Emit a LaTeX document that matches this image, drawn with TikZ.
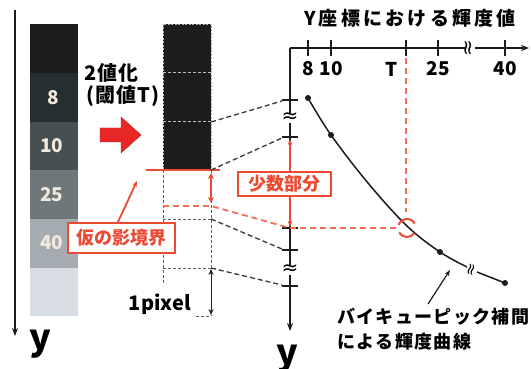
\documentclass[tikz,border=0pt]{standalone}
\usepackage{fontspec}
\setmainfont{Noto Sans CJK JP}[Kerning=Off]
\newfontfamily\dv{DejaVu Sans}
\usetikzlibrary{arrows.meta}
\definecolor{rd}{RGB}{236,74,50}
\definecolor{rdl}{RGB}{242,110,85}
\definecolor{arr}{RGB}{232,40,38}
\definecolor{blk}{RGB}{28,27,30}
\definecolor{ca}{RGB}{28,27,30}
\definecolor{cb}{RGB}{36,48,48}
\definecolor{cc}{RGB}{70,80,82}
\definecolor{cd}{RGB}{110,119,122}
\definecolor{ce}{RGB}{164,172,178}
\definecolor{cf}{RGB}{215,221,227}
\definecolor{ctx}{RGB}{242,232,222}
\definecolor{dsh}{RGB}{50,58,68}
\tikzset{
  celltxt/.style={text=ctx, font=\fontsize{19}{19}\selectfont\bfseries},
  lbl/.style={font=\fontsize{19}{19}\selectfont\bfseries, inner sep=0},
  rbox/.style={draw=rd, line width=2pt, fill=white, text=rd, inner sep=0,
     font=\fontsize{18}{18}\selectfont\bfseries},
  conn/.style={dsh, line width=1.3pt, dash pattern=on 5pt off 3pt},
  rconn/.style={rdl, line width=1.8pt, dash pattern=on 6pt off 4pt},
  grid/.style={dsh!80, line width=0.9pt, dash pattern=on 3pt off 2pt},
  axis/.style={blk, line width=1.8pt},
  tick/.style={blk, line width=1.6pt},
  brk/.style={fill=white, inner sep=0.5pt, font=\dv\fontsize{20}{20}\selectfont},
  dot/.style={circle, fill=blk, inner sep=0, minimum size=6pt},
  ylbl/.style={font=\fontsize{36}{36}\selectfont\bfseries, inner sep=0, anchor=base},
  clbl/.style={inner sep=0, anchor=west, font=\addfontfeature{LetterSpace=7.5}\fontsize{18}{18}\selectfont\bfseries},
}
\begin{document}
\begin{tikzpicture}[x=1pt,y=-1pt]
\useasboundingbox[fill=white] (0,0) rectangle (531,369);

% ---------- left gray column ----------
\fill[ca] (30,24) rectangle (78,73);
\fill[cb] (30,73) rectangle (78,122);
\fill[cc] (30,122) rectangle (78,170);
\fill[cd] (30,170) rectangle (78,219);
\fill[ce] (30,219) rectangle (78,268);
\fill[cf] (30,268) rectangle (78,316);
\node[celltxt] (g8) at (53,98) {8};
\node[celltxt] (g10) at (52,146) {10};
\node[celltxt] (g25) at (52,195) {25};
\node[celltxt] (g40) at (52,243) {40};

% left y axis
\coordinate (ly0) at (15,10);
\coordinate (ly1) at (15,336);
\draw[axis, -{Stealth[length=8pt,width=6pt]}] (ly0) -- (ly1);
\node[ylbl] (ylab) at (40,350) {y};

% binarization label and arrow
\node[lbl, anchor=west, font=\addfontfeature{LetterSpace=6}\fontsize{20}{20}\selectfont\bfseries] (bin1) at (84,73) {2値化};
\node[lbl, anchor=west, font=\addfontfeature{LetterSpace=6}\fontsize{20}{20}\selectfont\bfseries] (bin2) at (86,96) {(閾値T)};
\fill[arr, draw=arr!70!black, line width=0.4pt] (100,128) -- (121,128) -- (121,117) -- (141,135) -- (121,153) -- (121,142) -- (100,142) -- cycle;

% ---------- middle column ----------
\fill[blk] (163,24) rectangle (211,170);
\draw[gray!60, line width=0.9pt, dash pattern=on 2pt off 1.5pt] (163,24) rectangle (211,170);
\draw[gray!50, line width=1pt, dash pattern=on 3pt off 2pt] (163,73) -- (211,73);
\draw[gray!50, line width=1pt, dash pattern=on 3pt off 2pt] (163,122) -- (211,122);
\draw[grid] (163,170) -- (163,285);
\draw[grid] (211,170) -- (211,316);
\draw[grid] (163,219) -- (211,219);
\draw[grid] (163,268) -- (211,268);
\draw[grid] (196,316) -- (211,316);

% 1pixel
\draw[blk, line width=1pt, {Stealth[length=6pt,width=5pt]}-{Stealth[length=6pt,width=5pt]}] (211,269) -- (211,315);
\node[lbl, font=\fontsize{20}{20}\selectfont\bfseries] (pix) at (160,304) {1pixel};

% red boundary
\draw[rd, line width=2.5pt] (146,170) -- (220,170);
\draw[rd, line width=1.8pt, {Stealth[length=6pt,width=6pt]}-{Stealth[length=6pt,width=6pt]}] (211,173) -- (211,203);

% ---------- right graph ----------
\coordinate (O) at (290,48);
\coordinate (xe) at (529,48);
\coordinate (ye) at (290,331);
\draw[axis, -{Stealth[length=8pt,width=6pt]}] (O) -- (xe);
\draw[axis, -{Stealth[length=8pt,width=6pt]}] (O) -- (ye);
\node[ylbl] (ylab2) at (287,365) {y};
\node[lbl, font=\addfontfeature{LetterSpace=17}\fontsize{19}{19}\selectfont\bfseries] (title) at (410,18) {Y座標における輝度値};
\foreach \x/\t/\lx in {308/8/308, 331/10/331, 406/T/392, 438/25/438, 505/40/505}{
  \draw[tick] (\x,40) -- (\x,56);
  \node[lbl] at (\lx,69) {\t};
}
\foreach \y in {100,137,228,250,286}{
  \draw[tick] (282,\y) -- (298,\y);
}
\node[brk] (b1) at (290,118) {≈};
\node[brk] (b2) at (290,270) {≈};
\node[brk, rotate=90] (b3) at (470,48) {≈};

% connectors from pixels to axis
\draw[conn] (211,122) -- (282,101);
\draw[conn] (211,170) -- (282,138);
\draw[conn] (211,219) -- (282,249);
\draw[conn] (211,268) -- (282,285);

% red dashed fractional level
\draw[rconn] (163,206) -- (211,206) -- (290,228) -- (398,228);
\draw[rconn] (406,58) -- (406,212);

% fractional box and arrows
\node[rbox, minimum width=93pt, minimum height=24pt] (frac) at (284.5,184) {少数部分};
\draw[rd, line width=1.8pt, -{Stealth[length=6pt]}] (290,172) -- (290,139);
\draw[rd, line width=1.8pt, -{Stealth[length=6pt]}] (290,196) -- (290,227);

% curve
\node[dot] (p8) at (308,98) {};
\node[dot] (p10) at (331,135) {};
\node[dot] (p25) at (440,252) {};
\node[dot] (p40) at (505,283) {};
\draw[blk, line width=1.5pt] plot[smooth, tension=0.6] coordinates {(308,98) (331,135) (368,183) (407,226) (440,252) (467,267)};
\draw[blk, line width=1.5pt] (477,272) -- (505,283);
\node[font=\dv\fontsize{16}{16}\selectfont, inner sep=0, rotate=75] (b4) at (472,270) {≈};

% red mark at intersection
\draw[rd, line width=2pt] (407,228) ++(35:9) arc[start angle=35, end angle=150, radius=9];
\draw[rd, line width=2pt] (407,228) ++(200:9) arc[start angle=200, end angle=330, radius=9];

% curve label
\node[clbl] (cl1) at (337,317) {バイキューピック補間};
\node[clbl] (cl2) at (337,342) {による輝度曲線};
\coordinate (cp) at (450,270);
\draw[blk, line width=1.2pt, -{Stealth[length=6pt]}] (428,304) -- (cp);

% provisional boundary box
\node[rbox, minimum width=107pt, minimum height=30pt] (prov) at (121.5,238) {仮の影境界};
\draw[rd, line width=1.8pt, -{Stealth[length=6pt]}] (118,222) -- (137,181);
\end{tikzpicture}
\end{document}
